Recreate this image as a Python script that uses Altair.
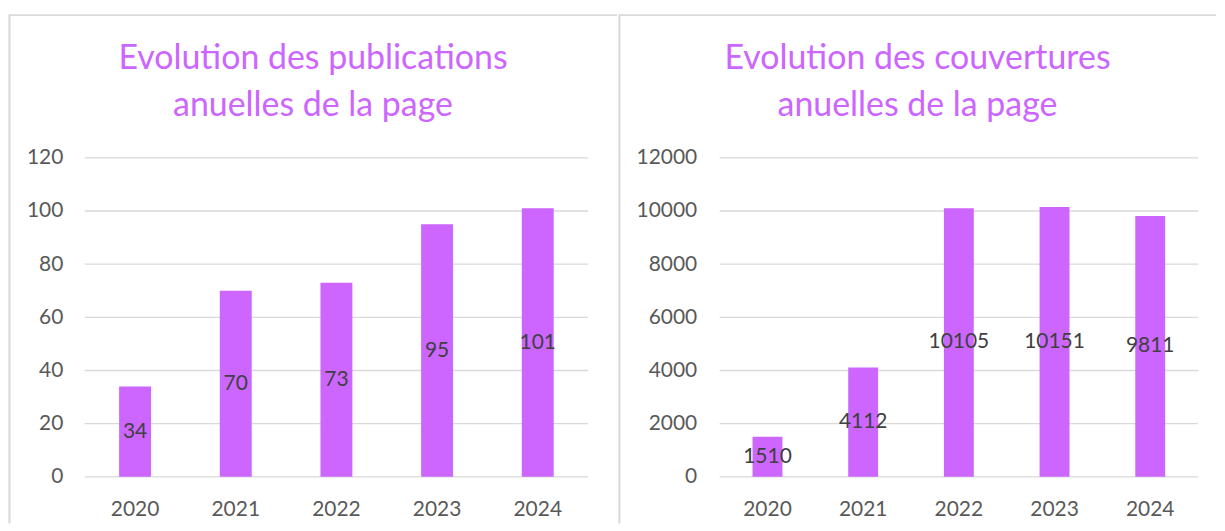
import altair as alt
import pandas as pd

years = ["2020", "2021", "2022", "2023", "2024"]
publications = [34, 70, 73, 95, 101]
couvertures = [1510, 4112, 10105, 10151, 9811]
ticks_pub = [0, 20, 40, 60, 80, 100, 120]
ticks_cov = [0, 2000, 4000, 6000, 8000, 10000, 12000]
title_pub = ["Evolution des publications", "anuelles de la page"]
title_cov = ["Evolution des couvertures", "anuelles de la page"]

BAR = "#CC66FF"
GRID = "#D9D9D9"
FONT = "Lato"
PANEL_H = 510


def panel(values, ticks, title, width, xrange, yrange, pad_inner, ymax, yoff):
    df = pd.DataFrame({"year": years, "value": values, "half": [v / 2 for v in values]})
    tdf = pd.DataFrame({"tick": ticks})
    xs = alt.Scale(domain=years, range=xrange, paddingInner=pad_inner, paddingOuter=pad_inner / 2)
    ys = alt.Scale(domain=[0, ymax], range=yrange, nice=False, zero=True)
    yaxis = alt.Axis(values=ticks, title=None, grid=False, domain=False, ticks=False,
                     format="d", labelPadding=0, offset=yoff, labelFont=FONT,
                     labelFontSize=21, labelColor="#595959")
    xaxis = alt.Axis(title=None, grid=False, domain=False, ticks=False, labelAngle=0,
                     labelPadding=0, offset=-25, labelBaseline="top", labelFont=FONT,
                     labelFontSize=21, labelColor="#595959")
    grid = alt.Chart(tdf).mark_rule(color=GRID, strokeWidth=1.3).encode(
        y=alt.Y("tick:Q", scale=ys, axis=yaxis),
        x=alt.value(xrange[0]), x2=alt.value(xrange[1]),
    )
    bars = alt.Chart(df).mark_bar(color=BAR).encode(
        x=alt.X("year:N", scale=xs, axis=xaxis, sort=years),
        y=alt.Y("value:Q", scale=ys, axis=yaxis),
    )
    labels = alt.Chart(df).mark_text(font=FONT, fontSize=21, color="#404040",
                                     baseline="middle").encode(
        x=alt.X("year:N", scale=xs, axis=xaxis, sort=years),
        y=alt.Y("half:Q", scale=ys, axis=yaxis),
        text=alt.Text("value:Q", format="d"),
    )
    vline = alt.Chart(df).mark_rule(color=GRID, strokeWidth=1.3).encode(
        x=alt.value(0.5), y=alt.value(0), y2=alt.value(PANEL_H))
    hline = alt.Chart(df).mark_rule(color=GRID, strokeWidth=1.3).encode(
        x=alt.value(0), x2=alt.value(width), y=alt.value(0.5))
    return alt.layer(grid, bars, labels, vline, hline).properties(
        width=width, height=PANEL_H,
        title=alt.TitleParams(text=title, anchor="middle", frame="group", orient="top",
                              offset=-109, font=FONT, fontSize=34, fontWeight="normal",
                              color=BAR, lineHeight=47),
    )


left = panel(publications, ticks_pub, title_pub, 610, [76, 581], [463.5, 143.5], 0.683, 120, -54)
right = panel(couvertures, ticks_cov, title_cov, 599, [101, 581], [463.5, 143.5], 0.6875, 12000, -78)

chart = alt.hconcat(left, right, spacing=0).properties(
    padding={"left": 0, "top": 5, "right": 0, "bottom": 0},
    background="white",
).configure_view(stroke=None)

chart.save("out.html", embed_options={"renderer": "svg", "actions": False})
